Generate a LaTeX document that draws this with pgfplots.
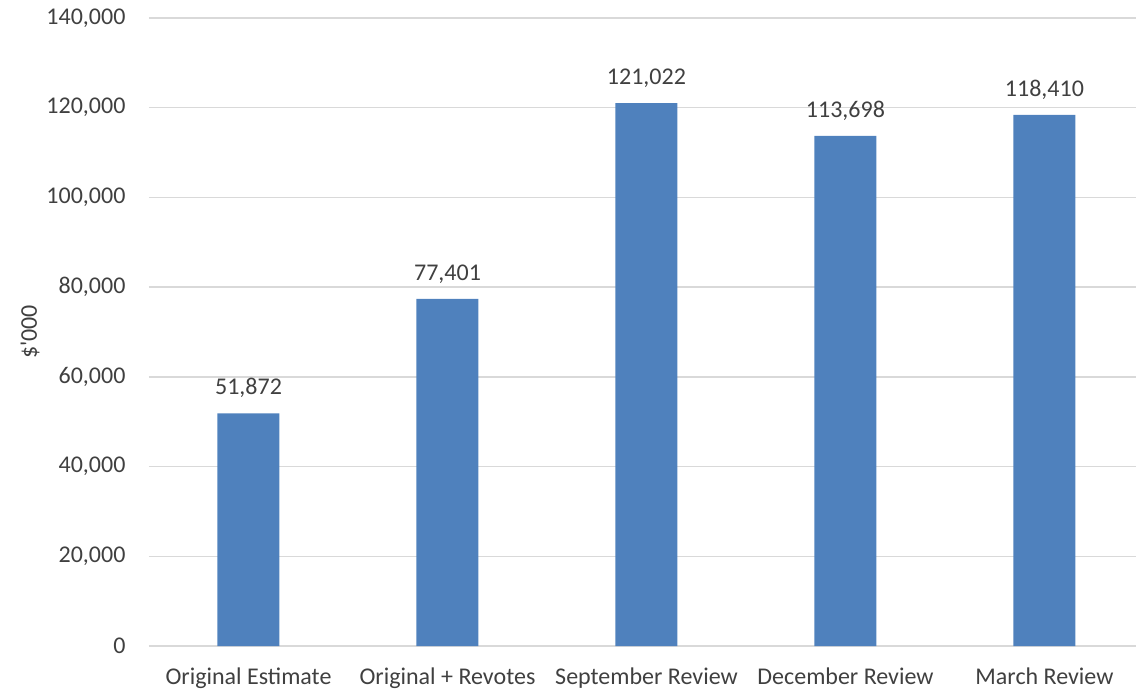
\documentclass[border=0pt]{standalone}
\usepackage{pgfplots}
\pgfplotsset{compat=1.18}
\usepackage{fontspec}
\setmainfont{Carlito}
\definecolor{barblue}{HTML}{4F81BD}
\definecolor{gridgray}{HTML}{D9D9D9}
\definecolor{txt}{HTML}{404040}
\begin{document}
\begin{tikzpicture}
\useasboundingbox (0,0) rectangle (1136pt,694pt);
\begin{axis}[
  at={(149pt,48pt)}, anchor=south west,
  scale only axis,
  width=987pt, height=628pt,
  xmin=-0.5, xmax=4.46,
  ymin=0, ymax=140000,
  ytick={0,20000,...,140000},
  scaled y ticks=false,
  xtick={0,1,2,3,4},
  xticklabels={Original Estimate, Original + Revotes, September Review, December Review, March Review},
  axis y line*=left,
  y axis line style={draw=none},
  axis x line*=bottom,
  x axis line style={draw=gridgray, line width=1.5pt, -},
  ymajorgrids,
  grid style={draw=gridgray, line width=1.5pt},
  major tick length=0pt,
  tick style={draw=none},
  font=\fontsize{24}{28}\selectfont,
  every tick label/.append style={text=txt},
  yticklabel style={xshift=-20pt},
  xticklabel style={yshift=-18pt},
  /pgf/number format/assume math mode=true,
  /pgf/number format/.cd, fixed, 1000 sep={,}, /pgfplots/.cd,
  ylabel={\$\textquotesingle 000},
  ylabel style={text=txt},
  clip=false,
]
\pgfplotsset{every axis y label/.append style={at={(-119pt,314pt)}, anchor=center}}
\addplot[ybar, bar width=62pt, fill=barblue, draw=none,
  nodes near coords,
  every node near coord/.append style={text=txt, font=\fontsize{24}{28}\selectfont, yshift=12pt, /pgf/number format/assume math mode=true, /pgf/number format/fixed, /pgf/number format/1000 sep={,}}
] coordinates {(0,51872) (1,77401) (2,121022) (3,113698) (4,118410)};
\end{axis}
\end{tikzpicture}
\end{document}
